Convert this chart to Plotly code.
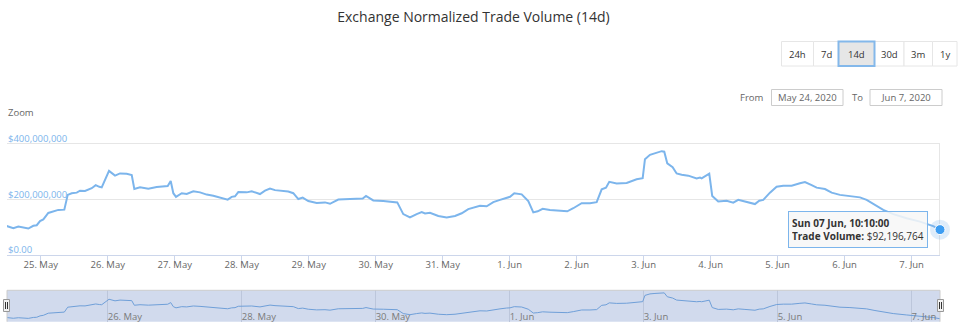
import plotly.graph_objects as go
from datetime import datetime

# ---------------- data ----------------
times = [
    "2020-05-24 11:30", "2020-05-24 14:11", "2020-05-24 15:59", "2020-05-24 17:46", "2020-05-24 19:33",
    "2020-05-24 21:21", "2020-05-24 22:34", "2020-05-24 23:45", "2020-05-25 00:56", "2020-05-25 02:43",
    "2020-05-25 04:31", "2020-05-25 06:18", "2020-05-25 08:27", "2020-05-25 09:40", "2020-05-25 11:06",
    "2020-05-25 12:54", "2020-05-25 14:05", "2020-05-25 15:52", "2020-05-25 18:16", "2020-05-25 19:42",
    "2020-05-25 20:59", "2020-05-25 21:51", "2020-05-26 00:28", "2020-05-26 02:37", "2020-05-26 04:24",
    "2020-05-26 06:48", "2020-05-26 08:36", "2020-05-26 09:32", "2020-05-26 11:34", "2020-05-26 14:33",
    "2020-05-26 17:33", "2020-05-26 19:55", "2020-05-26 21:30", "2020-05-26 22:34", "2020-05-26 23:30",
    "2020-05-27 00:28", "2020-05-27 02:31", "2020-05-27 04:18", "2020-05-27 06:40", "2020-05-27 09:04",
    "2020-05-27 11:28", "2020-05-27 13:50", "2020-05-27 16:14", "2020-05-27 18:59", "2020-05-27 20:25",
    "2020-05-27 21:36", "2020-05-27 22:47", "2020-05-28 01:47", "2020-05-28 03:35", "2020-05-28 06:33",
    "2020-05-28 08:21", "2020-05-28 10:08", "2020-05-28 11:56", "2020-05-28 14:20", "2020-05-28 16:41",
    "2020-05-28 18:29", "2020-05-28 20:17", "2020-05-28 21:51", "2020-05-28 23:51", "2020-05-29 02:52",
    "2020-05-29 05:50", "2020-05-29 07:38", "2020-05-29 10:36", "2020-05-29 14:48", "2020-05-29 17:46",
    "2020-05-29 19:21", "2020-05-29 20:32", "2020-05-29 23:08", "2020-05-30 02:43", "2020-05-30 06:55",
    "2020-05-30 07:44", "2020-05-30 09:53", "2020-05-30 12:17", "2020-05-30 14:41", "2020-05-30 16:29",
    "2020-05-30 17:40", "2020-05-30 19:27", "2020-05-30 22:26", "2020-05-31 01:26", "2020-05-31 04:25",
    "2020-05-31 06:49", "2020-05-31 09:10", "2020-05-31 11:34", "2020-05-31 13:22", "2020-05-31 15:46",
    "2020-05-31 18:08", "2020-05-31 20:32", "2020-05-31 22:56", "2020-06-01 00:07", "2020-06-01 01:39",
    "2020-06-01 04:18", "2020-06-01 06:40", "2020-06-01 08:28", "2020-06-01 10:02", "2020-06-01 11:49",
    "2020-06-01 14:26", "2020-06-01 17:25", "2020-06-01 19:12", "2020-06-01 20:38", "2020-06-01 22:47",
    "2020-06-02 01:47", "2020-06-02 04:46", "2020-06-02 07:10", "2020-06-02 08:58", "2020-06-02 10:30",
    "2020-06-02 11:41", "2020-06-02 14:20", "2020-06-02 17:55", "2020-06-02 20:17", "2020-06-02 21:29",
    "2020-06-02 23:39", "2020-06-03 00:28", "2020-06-03 02:16", "2020-06-03 04:03", "2020-06-03 06:27",
    "2020-06-03 07:23", "2020-06-03 08:28", "2020-06-03 10:23", "2020-06-03 11:49", "2020-06-03 13:37",
    "2020-06-03 15:59", "2020-06-03 18:59", "2020-06-03 20:10", "2020-06-03 20:47", "2020-06-03 23:30",
    "2020-06-04 00:34", "2020-06-04 02:43", "2020-06-04 05:44", "2020-06-04 08:06", "2020-06-04 09:53",
    "2020-06-04 12:17", "2020-06-04 14:05", "2020-06-04 15:52", "2020-06-04 17:25", "2020-06-04 18:51",
    "2020-06-04 21:15", "2020-06-04 23:38", "2020-06-05 02:01", "2020-06-05 05:01", "2020-06-05 07:59",
    "2020-06-05 09:47", "2020-06-05 12:11", "2020-06-05 13:58", "2020-06-05 16:57", "2020-06-05 19:21",
    "2020-06-05 22:19", "2020-06-06 01:54", "2020-06-06 05:29", "2020-06-06 07:53", "2020-06-06 10:52",
    "2020-06-06 13:50", "2020-06-06 17:25", "2020-06-06 22:13", "2020-06-07 02:59", "2020-06-07 07:44",
    "2020-06-07 10:10",
]
volume_musd = [
    106, 97, 103, 100, 96, 106, 108, 123, 129, 152,
    158, 163, 164, 217, 223, 225, 232, 231, 241, 252,
    246, 244, 303, 286, 294, 293, 288, 238, 244, 239,
    245, 249, 249, 267, 223, 210, 223, 220, 230, 226,
    218, 214, 208, 200, 210, 212, 227, 226, 230, 220,
    232, 240, 234, 231, 229, 223, 202, 207, 195, 188,
    190, 185, 200, 202, 205, 204, 213, 197, 195, 190,
    190, 148, 136, 148, 155, 150, 153, 141, 136, 141,
    151, 166, 172, 178, 176, 191, 199, 208, 210, 223,
    219, 195, 154, 158, 167, 163, 160, 158, 158, 169,
    187, 187, 191, 237, 243, 264, 258, 260, 269, 273,
    277, 345, 361, 366, 374, 372, 330, 316, 294, 289,
    286, 276, 279, 276, 293, 213, 193, 196, 189, 199,
    193, 189, 184, 196, 199, 225, 246, 250, 250, 259,
    263, 252, 243, 238, 225, 217, 213, 208, 199, 181,
    163, 148, 133, 121, 105, 92.196764,
]
volumes = [v * 1e6 for v in volume_musd]

title_text = "Exchange Normalized Trade Volume (14d)"
series_name = "Trade Volume"
x_range = ["2020-05-24 11:55", "2020-06-07 10:10"]
y_tick_values = [0, 200e6, 400e6]
y_tick_labels = ["$0.00", "$200,000,000", "$400,000,000"]
nav_tick_dates = ["2020-05-26", "2020-05-28", "2020-05-30", "2020-06-01",
                  "2020-06-03", "2020-06-05", "2020-06-07"]
range_buttons = ["24h", "7d", "14d", "30d", "3m", "1y"]
selected_button = "14d"
from_label, from_date = "From", "May 24, 2020"
to_label, to_date = "To", "Jun 7, 2020"

# ---------------- layout helpers (pixels -> paper) ----------------
W, H = 960, 324
L, R, T, B = 7, 20, 130, 2
FONT = "Open Sans"


def xp(px):
    return (px - L) / (W - L - R)


def yp(py):
    return (H - B - py) / (H - T - B)


LINE = "#7cb5ec"

fig = go.Figure()

# main series
fig.add_trace(go.Scatter(
    x=times, y=volumes, mode="lines", name=series_name,
    line=dict(color=LINE, width=2), xaxis="x", yaxis="y",
    hoverinfo="skip",
))
# hovered point (last point) with halo
fig.add_trace(go.Scatter(
    x=[times[-1]], y=[volumes[-1]], mode="markers",
    marker=dict(size=20, color="rgba(124,181,236,0.25)"),
    cliponaxis=False, xaxis="x", yaxis="y", hoverinfo="skip",
))
fig.add_trace(go.Scatter(
    x=[times[-1]], y=[volumes[-1]], mode="markers",
    marker=dict(size=10, color="#3d9df2", line=dict(color="#ffffff", width=1)),
    cliponaxis=False, xaxis="x", yaxis="y", hoverinfo="skip",
))
# navigator series
fig.add_trace(go.Scatter(
    x=times, y=volumes, mode="lines",
    line=dict(color="#6f9fd8", width=1), xaxis="x2", yaxis="y2",
    hoverinfo="skip",
))

shapes = []
annotations = []

# crosshair at hovered point
shapes.append(dict(type="line", xref="x", yref="y", x0=times[-1], x1=times[-1],
                   y0=0, y1=y_tick_values[-1], line=dict(color="#cccccc", width=1),
                   layer="below"))

# y-axis labels, drawn just above their gridlines
for v, lab in zip(y_tick_values, y_tick_labels):
    annotations.append(dict(xref="paper", yref="y", x=xp(6), y=v, text=lab,
                            showarrow=False, xanchor="left", yanchor="middle", yshift=5.5,
                            font=dict(family=FONT, size=9.5, color="#7cb5ec")))

# navigator mask + outline
shapes.append(dict(type="rect", xref="x2 domain", yref="y2 domain", x0=0, x1=1, y0=0, y1=1,
                   fillcolor="rgba(102,133,194,0.3)", line=dict(width=0), layer="below"))
for (a, b, c, d) in [(0, 0, 0, 1), (0, 1, 1, 1), (1, 1, 1, 0)]:
    shapes.append(dict(type="line", xref="x2 domain", yref="y2 domain", x0=a, x1=b, y0=c, y1=d,
                       line=dict(color="#cccccc", width=1)))
# navigator handles
for cx in (6.5, 940.5):
    shapes.append(dict(type="rect", xref="paper", yref="paper",
                       x0=xp(cx - 3), x1=xp(cx + 3), y0=yp(311.5), y1=yp(299.5),
                       fillcolor="#f2f2f2", line=dict(color="#999999", width=1)))
    for dx in (-1, 1):
        shapes.append(dict(type="line", xref="paper", yref="paper",
                           x0=xp(cx + dx), x1=xp(cx + dx), y0=yp(309), y1=yp(302),
                           line=dict(color="#333333", width=1)))

# range selector buttons
btn_edges = [781.5, 813.5, 838.5, 874.5, 904, 932.5, 957]
btn_top, btn_bot = 41.5, 66
sel_idx = range_buttons.index(selected_button)
for i, lab in enumerate(range_buttons):
    if i == sel_idx:
        continue
    shapes.append(dict(type="rect", xref="paper", yref="paper",
                       x0=xp(btn_edges[i]), x1=xp(btn_edges[i + 1]),
                       y0=yp(btn_bot), y1=yp(btn_top),
                       fillcolor="#ffffff", line=dict(color="#e6e6e6", width=1)))
shapes.append(dict(type="rect", xref="paper", yref="paper",
                   x0=xp(btn_edges[sel_idx]), x1=xp(btn_edges[sel_idx + 1]),
                   y0=yp(btn_bot), y1=yp(btn_top),
                   fillcolor="#e6e6e6", line=dict(color="#84b8ea", width=2)))
for i, lab in enumerate(range_buttons):
    annotations.append(dict(xref="paper", yref="paper",
                            x=xp((btn_edges[i] + btn_edges[i + 1]) / 2), y=yp(54),
                            text=lab, showarrow=False, xanchor="center", yanchor="middle",
                            font=dict(family=FONT, size=9.5, color="#333333")))

# From / To inputs
for (x0, x1, txt) in [(771.5, 843, from_date), (870, 942, to_date)]:
    shapes.append(dict(type="rect", xref="paper", yref="paper",
                       x0=xp(x0), x1=xp(x1), y0=yp(105.5), y1=yp(89.5),
                       fillcolor="#ffffff", line=dict(color="#cccccc", width=1)))
    annotations.append(dict(xref="paper", yref="paper", x=xp((x0 + x1) / 2), y=yp(97.5),
                            text=txt, showarrow=False, xanchor="center", yanchor="middle",
                            font=dict(family=FONT, size=9.5, color="#666666")))
annotations.append(dict(xref="paper", yref="paper", x=xp(766), y=yp(97.5), text=from_label,
                        showarrow=False, xanchor="right", yanchor="middle",
                        font=dict(family=FONT, size=9.5, color="#666666")))
annotations.append(dict(xref="paper", yref="paper", x=xp(857), y=yp(97.5), text=to_label,
                        showarrow=False, xanchor="center", yanchor="middle",
                        font=dict(family=FONT, size=9.5, color="#666666")))
# Zoom label
annotations.append(dict(xref="paper", yref="paper", x=xp(6), y=yp(113), text="Zoom",
                        showarrow=False, xanchor="left", yanchor="middle",
                        font=dict(family=FONT, size=9.5, color="#666666")))

# tooltip
last_t = datetime.strptime(times[-1], "%Y-%m-%d %H:%M")
tip = "<b>{}</b><br><b>{}:</b> ${:,.0f}".format(
    last_t.strftime("%a %d %b, %H:%M:%S"), series_name, volumes[-1])
annotations.append(dict(xref="paper", yref="paper", x=xp(788), y=yp(211), text=tip,
                        showarrow=False, xanchor="left", yanchor="top", align="left",
                        width=132, height=29, borderpad=3,
                        bgcolor="rgba(247,247,247,0.85)", bordercolor="#7cb5ec", borderwidth=1,
                        font=dict(family=FONT, size=10, color="#333333")))

fig.update_layout(
    width=W, height=H,
    margin=dict(l=L, r=R, t=T, b=B, pad=0),
    paper_bgcolor="#ffffff", plot_bgcolor="rgba(0,0,0,0)",
    showlegend=False,
    title=dict(text=title_text, x=0.5, xanchor="center", xref="paper",
               y=1 - 17 / H, yanchor="middle", yref="container",
               font=dict(family=FONT, size=14, color="#333333")),
    xaxis=dict(
        domain=[0, 1], anchor="y", range=x_range, type="date",
        showgrid=False, zeroline=False,
        showline=True, linecolor="#ccd6eb", linewidth=1,
        ticks="outside", ticklen=10, tickcolor="#ccd6eb", tickwidth=1,
        tick0="2020-05-25", dtick=86400000, tickformat="%-d. %b",
        tickfont=dict(family=FONT, size=9.5, color="#666666"),
        ticklabelstandoff=-10,
    ),
    yaxis=dict(
        domain=[yp(255.3), 1], anchor="x", range=[0, 450e6],
        tickvals=y_tick_values, showticklabels=False,
        showgrid=True, gridcolor="#e6e6e6", gridwidth=1, zeroline=False,
        showline=False, ticks="",
    ),
    xaxis2=dict(
        domain=[0, 1], anchor="y2", range=x_range, type="date",
        tickvals=nav_tick_dates, tickformat="%-d. %b",
        showgrid=True, gridcolor="#bcc6db", gridwidth=1, zeroline=False,
        showline=False, ticks="",
        ticklabelposition="inside right", ticklabelstandoff=-6,
        tickfont=dict(family=FONT, size=9.5, color="#7a7a7a"),
    ),
    yaxis2=dict(
        domain=[yp(321.7), yp(290.3)], anchor="x2", range=[60e6, 400e6],
        showgrid=False, zeroline=False, showticklabels=False, showline=False, ticks="",
    ),
    shapes=shapes,
    annotations=annotations,
)

fig.write_html("out.html")
